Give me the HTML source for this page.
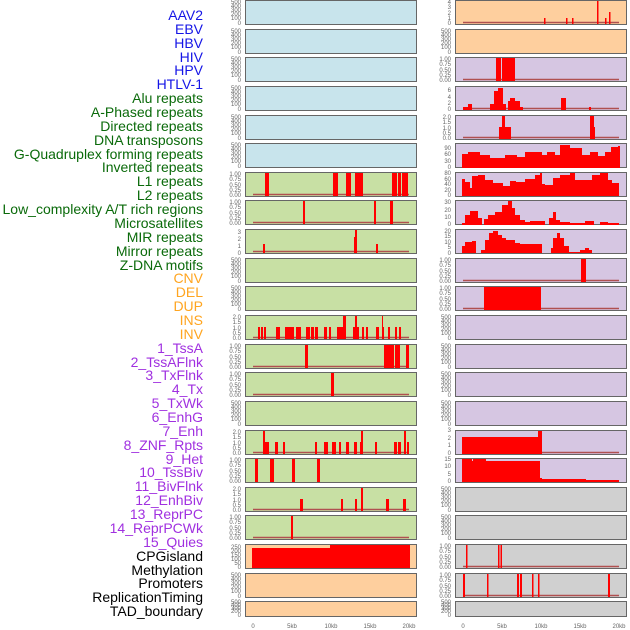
<!DOCTYPE html>
<html><head><meta charset="utf-8"><style>
body{margin:0;background:#fff;width:630px;height:630px;overflow:hidden;position:relative;font-family:"Liberation Sans",sans-serif}
.l{position:absolute;right:427px;font-size:14px;line-height:14px;white-space:nowrap}
.bl{color:#1515e6}.gr{color:#0a6a0a}.or{color:#ffa520}.pu{color:#a030e0}.bk{color:#000}
svg{position:absolute;left:0;top:0}
svg text{font-family:"Liberation Sans",sans-serif;font-size:6px;fill:#666}
.r{fill:#f00}
</style></head><body>
<div class="l bl" style="top:8px">AAV2</div>
<div class="l bl" style="top:22px">EBV</div>
<div class="l bl" style="top:36px">HBV</div>
<div class="l bl" style="top:50px">HIV</div>
<div class="l bl" style="top:63px">HPV</div>
<div class="l bl" style="top:77px">HTLV-1</div>
<div class="l gr" style="top:91px">Alu repeats</div>
<div class="l gr" style="top:105px">A-Phased repeats</div>
<div class="l gr" style="top:119px">Directed repeats</div>
<div class="l gr" style="top:133px">DNA transposons</div>
<div class="l gr" style="top:147px">G-Quadruplex forming repeats</div>
<div class="l gr" style="top:160px">Inverted repeats</div>
<div class="l gr" style="top:174px">L1 repeats</div>
<div class="l gr" style="top:188px">L2 repeats</div>
<div class="l gr" style="top:202px">Low_complexity A/T rich regions</div>
<div class="l gr" style="top:216px">Microsatellites</div>
<div class="l gr" style="top:230px">MIR repeats</div>
<div class="l gr" style="top:244px">Mirror repeats</div>
<div class="l gr" style="top:258px">Z-DNA motifs</div>
<div class="l or" style="top:271px">CNV</div>
<div class="l or" style="top:285px">DEL</div>
<div class="l or" style="top:299px">DUP</div>
<div class="l or" style="top:313px">INS</div>
<div class="l or" style="top:327px">INV</div>
<div class="l pu" style="top:341px">1_TssA</div>
<div class="l pu" style="top:355px">2_TssAFlnk</div>
<div class="l pu" style="top:368px">3_TxFlnk</div>
<div class="l pu" style="top:382px">4_Tx</div>
<div class="l pu" style="top:396px">5_TxWk</div>
<div class="l pu" style="top:410px">6_EnhG</div>
<div class="l pu" style="top:424px">7_Enh</div>
<div class="l pu" style="top:438px">8_ZNF_Rpts</div>
<div class="l pu" style="top:452px">9_Het</div>
<div class="l pu" style="top:465px">10_TssBiv</div>
<div class="l pu" style="top:479px">11_BivFlnk</div>
<div class="l pu" style="top:493px">12_EnhBiv</div>
<div class="l pu" style="top:507px">13_ReprPC</div>
<div class="l pu" style="top:521px">14_ReprPCWk</div>
<div class="l pu" style="top:535px">15_Quies</div>
<div class="l bk" style="top:549px">CPGisland</div>
<div class="l bk" style="top:563px">Methylation</div>
<div class="l bk" style="top:576px">Promoters</div>
<div class="l bk" style="top:590px">ReplicationTiming</div>
<div class="l bk" style="top:604px">TAD_boundary</div>

<svg width="630" height="630" xmlns="http://www.w3.org/2000/svg">
<defs>
<g id="e"><text x="241" y="4" text-anchor="end">500</text><text x="241" y="8" text-anchor="end">400</text><text x="241" y="12" text-anchor="end">300</text><text x="241" y="16" text-anchor="end">200</text><text x="241" y="20" text-anchor="end">100</text><text x="241" y="25" text-anchor="end">0</text></g>
<g id="f"><text x="241" y="4" text-anchor="end">1.00</text><text x="241" y="9" text-anchor="end">0.75</text><text x="241" y="15" text-anchor="end">0.50</text><text x="241" y="20" text-anchor="end">0.25</text><text x="241" y="25" text-anchor="end">0.00</text></g>
<g id="t"><text x="241" y="4" text-anchor="end">2.0</text><text x="241" y="9" text-anchor="end">1.5</text><text x="241" y="15" text-anchor="end">1.0</text><text x="241" y="20" text-anchor="end">0.5</text><text x="241" y="25" text-anchor="end">0.0</text></g>
<line id="bs" x1="253" y1="22.5" x2="409" y2="22.5" stroke="#b05050" stroke-width="1.5"/>
</defs>

<!-- LEFT COLUMN -->
<g fill="#c8e4ec" stroke="#666" stroke-width="1">
<rect x="245.5" y="0.5" width="171" height="24"/><rect x="245.5" y="29.5" width="171" height="24"/><rect x="245.5" y="57.5" width="171" height="24"/><rect x="245.5" y="86.5" width="171" height="24"/><rect x="245.5" y="115.5" width="171" height="24"/><rect x="245.5" y="143.5" width="171" height="24"/>
</g>
<g fill="#c8e0a4" stroke="#666" stroke-width="1">
<rect x="245.5" y="172.5" width="171" height="24"/><rect x="245.5" y="200.5" width="171" height="24"/><rect x="245.5" y="229.5" width="171" height="24"/><rect x="245.5" y="258.5" width="171" height="24"/><rect x="245.5" y="286.5" width="171" height="24"/><rect x="245.5" y="315.5" width="171" height="24"/><rect x="245.5" y="344.5" width="171" height="24"/><rect x="245.5" y="372.5" width="171" height="24"/><rect x="245.5" y="401.5" width="171" height="24"/><rect x="245.5" y="430.5" width="171" height="24"/><rect x="245.5" y="458.5" width="171" height="24"/><rect x="245.5" y="487.5" width="171" height="24"/><rect x="245.5" y="515.5" width="171" height="24"/>
</g>
<g fill="#fecf9e" stroke="#666" stroke-width="1">
<rect x="245.5" y="544.5" width="171" height="24"/><rect x="245.5" y="573.5" width="171" height="24"/><rect x="245.5" y="601.5" width="171" height="15"/>
</g>
<!-- left ticks -->
<use href="#e" y="0"/><use href="#e" y="29"/><use href="#e" y="57"/><use href="#e" y="86"/><use href="#e" y="115"/><use href="#e" y="143"/>
<use href="#f" y="172"/><use href="#f" y="200"/>
<g><text x="241" y="234" text-anchor="end">3</text><text x="241" y="241" text-anchor="end">2</text><text x="241" y="248" text-anchor="end">1</text><text x="241" y="255" text-anchor="end">0</text></g>
<use href="#e" y="258"/><use href="#e" y="286"/><use href="#t" y="315"/><use href="#f" y="344"/><use href="#f" y="372"/><use href="#e" y="401"/><use href="#t" y="430"/><use href="#f" y="458"/><use href="#t" y="487"/><use href="#f" y="515"/>
<g><text x="241" y="549" text-anchor="end">250</text><text x="241" y="553" text-anchor="end">200</text><text x="241" y="557" text-anchor="end">150</text><text x="241" y="561" text-anchor="end">100</text><text x="241" y="565" text-anchor="end">50</text><text x="241" y="569" text-anchor="end">0</text></g>
<use href="#e" y="573"/>
<g><text x="241" y="604" text-anchor="end">500</text><text x="241" y="607" text-anchor="end">400</text><text x="241" y="610" text-anchor="end">300</text><text x="241" y="613" text-anchor="end">200</text><text x="241" y="617" text-anchor="end">0</text></g>
<!-- baselines -->
<use href="#bs" y="172"/><use href="#bs" y="200"/><use href="#bs" y="229"/><use href="#bs" y="315"/><use href="#bs" y="344"/><use href="#bs" y="372"/><use href="#bs" y="430"/><use href="#bs" y="487"/><use href="#bs" y="515"/>
<!-- row7 L1 -->
<g class="r"><rect x="265" y="173" width="4" height="23"/><rect x="333" y="173" width="5" height="23"/><rect x="346" y="173" width="5" height="23"/><rect x="355" y="173" width="8" height="23"/><rect x="392" y="173" width="5" height="23"/><rect x="398" y="173" width="3" height="23"/><rect x="402" y="173" width="6" height="23"/></g>
<!-- row8 -->
<g class="r"><rect x="303" y="201" width="2" height="23"/><rect x="374" y="201" width="2" height="23"/><rect x="390" y="201" width="3" height="23"/></g>
<!-- row9 -->
<g class="r"><rect x="263" y="244" width="2" height="9"/><rect x="354" y="237" width="3" height="16"/><rect x="355" y="230" width="2" height="23"/><rect x="376" y="244" width="2" height="9"/></g>
<!-- row12 INS-ish -->
<g class="r">
<rect x="258" y="327" width="2" height="12"/><rect x="261" y="327" width="2" height="12"/><rect x="264" y="327" width="2" height="12"/><rect x="276" y="327" width="2" height="12"/><rect x="278" y="327" width="2" height="12"/><rect x="285" y="327" width="3" height="12"/><rect x="288" y="327" width="2" height="12"/><rect x="290" y="327" width="2" height="12"/><rect x="292" y="327" width="2" height="12"/><rect x="296" y="327" width="3" height="12"/><rect x="299" y="327" width="2" height="12"/><rect x="306" y="327" width="4" height="12"/><rect x="311" y="327" width="3" height="12"/><rect x="315" y="327" width="3" height="12"/><rect x="324" y="327" width="3" height="12"/><rect x="329" y="327" width="2" height="12"/><rect x="337" y="327" width="3" height="12"/><rect x="340" y="327" width="3" height="12"/><rect x="343" y="316" width="3" height="23"/><rect x="353" y="327" width="3" height="12"/><rect x="355" y="316" width="2" height="23"/><rect x="357" y="327" width="2" height="12"/><rect x="362" y="327" width="2" height="12"/><rect x="366" y="327" width="2" height="12"/><rect x="376" y="327" width="3" height="12"/><rect x="382" y="327" width="2" height="12"/><rect x="382" y="316" width="1" height="23"/><rect x="388" y="327" width="2" height="12"/><rect x="395" y="327" width="2" height="12"/><rect x="399" y="327" width="2" height="12"/></g>
<!-- row13 -->
<g class="r"><rect x="305" y="345" width="3" height="23"/><rect x="384" y="345" width="10" height="23"/><rect x="395" y="345" width="5" height="23"/><rect x="406" y="345" width="3" height="23"/></g>
<!-- row14 -->
<g class="r"><rect x="331" y="373" width="3" height="23"/></g>
<!-- row16 -->
<g class="r"><rect x="263" y="431" width="2" height="23"/><rect x="265" y="442" width="4" height="12"/><rect x="275" y="442" width="3" height="12"/><rect x="283" y="442" width="2" height="12"/><rect x="315" y="442" width="2" height="12"/><rect x="324" y="442" width="4" height="12"/><rect x="332" y="442" width="4" height="12"/><rect x="339" y="442" width="2" height="12"/><rect x="346" y="442" width="3" height="12"/><rect x="354" y="442" width="3" height="12"/><rect x="360" y="442" width="3" height="12"/><rect x="361" y="431" width="2" height="23"/><rect x="375" y="442" width="2" height="12"/><rect x="394" y="442" width="3" height="12"/><rect x="398" y="442" width="3" height="12"/><rect x="404" y="431" width="2" height="23"/><rect x="407" y="442" width="2" height="12"/></g>
<!-- row17 -->
<g class="r"><rect x="255" y="459" width="3" height="23"/><rect x="270" y="459" width="4" height="23"/><rect x="292" y="459" width="3" height="23"/><rect x="317" y="459" width="3" height="23"/></g>
<!-- row18 -->
<g class="r"><rect x="300" y="499" width="3" height="12"/><rect x="341" y="499" width="2" height="12"/><rect x="355" y="499" width="2" height="12"/><rect x="361" y="488" width="2" height="23"/><rect x="386" y="499" width="3" height="12"/><rect x="403" y="499" width="3" height="12"/></g>
<!-- row19 -->
<g class="r"><rect x="291" y="516" width="2" height="23"/></g>
<!-- row20 -->
<g class="r"><rect x="252" y="548" width="79" height="20"/><rect x="330" y="545" width="80" height="23"/></g>

<!-- RIGHT COLUMN -->
<g fill="#fecf9e" stroke="#666" stroke-width="1">
<rect x="455.5" y="0.5" width="171" height="24"/><rect x="455.5" y="29.5" width="171" height="24"/>
</g>
<g fill="#d6c6e2" stroke="#666" stroke-width="1">
<rect x="455.5" y="57.5" width="171" height="24"/><rect x="455.5" y="86.5" width="171" height="24"/><rect x="455.5" y="115.5" width="171" height="24"/><rect x="455.5" y="143.5" width="171" height="24"/><rect x="455.5" y="172.5" width="171" height="24"/><rect x="455.5" y="200.5" width="171" height="24"/><rect x="455.5" y="229.5" width="171" height="24"/><rect x="455.5" y="258.5" width="171" height="24"/><rect x="455.5" y="286.5" width="171" height="24"/><rect x="455.5" y="315.5" width="171" height="24"/><rect x="455.5" y="344.5" width="171" height="24"/><rect x="455.5" y="372.5" width="171" height="24"/><rect x="455.5" y="401.5" width="171" height="24"/><rect x="455.5" y="430.5" width="171" height="24"/><rect x="455.5" y="458.5" width="171" height="24"/>
</g>
<g fill="#d0d0d0" stroke="#666" stroke-width="1">
<rect x="455.5" y="487.5" width="171" height="24"/><rect x="455.5" y="515.5" width="171" height="24"/><rect x="455.5" y="544.5" width="171" height="24"/><rect x="455.5" y="573.5" width="171" height="24"/><rect x="455.5" y="601.5" width="171" height="15"/>
</g>
<g transform="translate(210,0)">
<g><text x="241" y="4" text-anchor="end">4</text><text x="241" y="9" text-anchor="end">3</text><text x="241" y="15" text-anchor="end">2</text><text x="241" y="20" text-anchor="end">1</text><text x="241" y="25" text-anchor="end">0</text></g>
<use href="#e" y="29"/><use href="#f" y="57"/>
<g><text x="241" y="92" text-anchor="end">6</text><text x="241" y="99" text-anchor="end">4</text><text x="241" y="105" text-anchor="end">2</text><text x="241" y="111" text-anchor="end">0</text></g>
<use href="#t" y="115"/>
<g><text x="241" y="150" text-anchor="end">90</text><text x="241" y="156" text-anchor="end">60</text><text x="241" y="163" text-anchor="end">30</text><text x="241" y="169" text-anchor="end">0</text></g>
<g><text x="241" y="175" text-anchor="end">80</text><text x="241" y="181" text-anchor="end">60</text><text x="241" y="186" text-anchor="end">40</text><text x="241" y="192" text-anchor="end">20</text><text x="241" y="197" text-anchor="end">0</text></g>
<g><text x="241" y="204" text-anchor="end">30</text><text x="241" y="212" text-anchor="end">20</text><text x="241" y="219" text-anchor="end">10</text><text x="241" y="226" text-anchor="end">0</text></g>
<g><text x="241" y="233" text-anchor="end">20</text><text x="241" y="238" text-anchor="end">15</text><text x="241" y="244" text-anchor="end">10</text><text x="241" y="249" text-anchor="end">5</text><text x="241" y="255" text-anchor="end">0</text></g>
<use href="#f" y="258"/><use href="#f" y="286"/><use href="#e" y="315"/><use href="#e" y="344"/><use href="#e" y="372"/><use href="#e" y="401"/>
<g><text x="241" y="432" text-anchor="end">3</text><text x="241" y="440" text-anchor="end">2</text><text x="241" y="447" text-anchor="end">1</text><text x="241" y="455" text-anchor="end">0</text></g>
<g><text x="241" y="461" text-anchor="end">15</text><text x="241" y="468" text-anchor="end">10</text><text x="241" y="476" text-anchor="end">5</text><text x="241" y="483" text-anchor="end">0</text></g>
<use href="#e" y="487"/><use href="#e" y="515"/><use href="#f" y="544"/><use href="#f" y="573"/>
<g><text x="241" y="604" text-anchor="end">500</text><text x="241" y="607" text-anchor="end">400</text><text x="241" y="610" text-anchor="end">300</text><text x="241" y="613" text-anchor="end">200</text><text x="241" y="617" text-anchor="end">0</text></g>
<use href="#bs" y="0"/><use href="#bs" y="57"/><use href="#bs" y="86"/><use href="#bs" y="115"/><use href="#bs" y="258"/><use href="#bs" y="286"/><use href="#bs" y="430"/><use href="#bs" y="544"/><use href="#bs" y="573"/>
</g>
<!-- right data -->
<g class="r">
<rect x="544" y="18" width="1.5" height="6"/><rect x="566" y="18" width="1.5" height="6"/><rect x="572" y="18" width="1.5" height="6"/><rect x="597" y="1" width="1.5" height="23"/><rect x="605" y="18" width="1.5" height="6"/><rect x="609" y="12" width="1.5" height="12"/>
<rect x="496" y="58" width="5" height="23"/><rect x="502" y="58" width="13" height="23"/>
<rect x="463" y="107" width="5" height="3"/><rect x="468" y="104" width="4" height="6"/><rect x="490" y="104" width="4" height="6"/><rect x="494" y="91" width="4" height="19"/><rect x="498" y="88" width="5" height="22"/><rect x="503" y="104" width="3" height="6"/><rect x="508" y="101" width="2" height="9"/><rect x="510" y="98" width="5" height="12"/><rect x="515" y="101" width="5" height="9"/><rect x="520" y="107" width="3" height="3"/><rect x="561" y="98" width="5" height="12"/><rect x="589" y="107" width="2" height="3"/>
<rect x="499" y="127" width="3" height="12"/><rect x="502" y="116" width="3" height="23"/><rect x="505" y="127" width="6" height="12"/><rect x="590" y="116" width="4" height="23"/><rect x="594" y="127" width="1" height="12"/>
<rect x="581" y="259" width="5" height="23"/><rect x="484" y="287" width="57" height="23"/>
<rect x="462" y="437" width="79" height="17"/><rect x="538" y="431" width="4" height="23"/>
<rect x="462" y="459" width="10" height="23"/><rect x="472" y="461" width="1" height="21"/><rect x="473" y="459" width="13" height="23"/><rect x="486" y="461" width="54" height="21"/><rect x="540" y="478" width="2" height="4"/><rect x="542" y="479" width="44" height="3"/><rect x="586" y="480" width="33" height="2"/>
<rect x="466" y="545" width="1.5" height="23"/><rect x="498" y="545" width="1.5" height="23"/><rect x="500.5" y="545" width="1.5" height="23"/>
<rect x="463" y="574" width="2" height="23"/><rect x="487" y="574" width="1.5" height="23"/><rect x="517" y="574" width="2" height="23"/><rect x="520" y="574" width="2" height="23"/><rect x="532" y="574" width="1.5" height="23"/><rect x="538" y="574" width="1.5" height="23"/><rect x="608" y="574" width="2" height="23"/>
</g>
<!-- profiles -->
<polygon class="r" points="462,168 462,154 468,154 468,152 480,152 480,155 490,155 490,158 505,158 505,155 517,155 517,157 525,157 525,152 542,152 542,155 547,155 547,152 555,152 555,155 560,155 560,145 570,145 570,148 582,148 582,155 590,155 590,152 598,152 598,156 605,156 605,152 611,152 611,147 618,147 618,146 620,146 620,168"/>
<polygon class="r" points="462,196 462,179 465,179 465,182 470,182 470,188 472,188 472,176 478,176 478,175 485,175 485,180 493,180 493,183 503,183 503,186 510,186 510,181 516,181 516,182 525,182 525,179 535,179 535,175 540,175 540,173 542,173 542,184 545,184 545,185 553,185 553,178 560,178 560,175 570,175 570,173 575,173 575,180 592,180 592,175 600,175 600,173 608,173 608,180 612,180 612,183 619,183 619,196"/>
<polygon class="r" points="462,225 462,223 465,223 465,215 470,215 470,211 478,211 478,218 482,218 482,225 484,225 484,219 488,219 488,215 495,215 495,212 502,212 502,205 508,205 508,201 512,201 512,208 515,208 515,215 520,215 520,220 525,220 525,222 530,222 530,221 545,221 545,225 549,225 549,218 553,218 553,212 556,212 556,220 560,220 560,222 570,222 570,223 585,223 585,221 594,221 594,225 600,225 600,222 608,222 608,223 619,223 619,225"/>
<polygon class="r" points="462,253 462,246 465,246 465,242 472,242 472,241 476,241 476,253 481,253 481,250 485,250 485,240 489,240 489,233 493,233 493,231 498,231 498,235 502,235 502,238 506,238 506,240 515,240 515,243 520,243 520,244 542,244 542,253 551,253 551,248 553,248 553,238 557,238 557,233 560,233 560,238 564,238 564,246 569,246 569,252 580,252 580,250 585,250 585,248 589,248 589,250 592,250 592,253"/>
<!-- x axis -->
<g style="font-size:7px" text-anchor="middle">
<text x="253" y="628">0</text><text x="292" y="628">5kb</text><text x="331" y="628">10kb</text><text x="370" y="628">15kb</text><text x="409" y="628">20kb</text>
<text x="463" y="628">0</text><text x="502" y="628">5kb</text><text x="541" y="628">10kb</text><text x="580" y="628">15kb</text><text x="619" y="628">20kb</text>
</g>
</svg>
</body></html>
